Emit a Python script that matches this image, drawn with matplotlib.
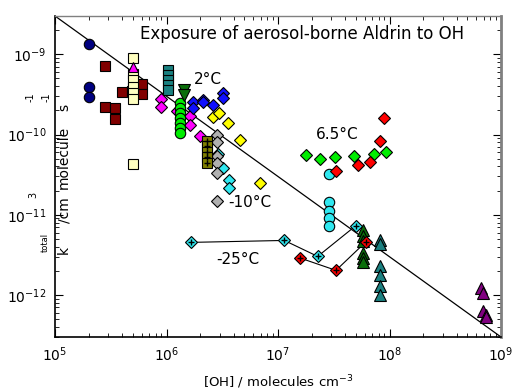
import matplotlib
matplotlib.use("Agg")
import matplotlib.pyplot as plt
from matplotlib.ticker import LogLocator, NullFormatter

# ---------------- data ----------------
ref_x = [1e5, 1e9]
ref_y = [3e-9, 3e-13]

navy_x = [2.0e5, 2.0e5, 2.0e5]
navy_y = [1.36e-9, 3.9e-10, 2.92e-10]

maroon_x = [2.8e5, 2.8e5, 3.45e5, 3.45e5, 4.0e5, 4.9e5, 5.7e5, 6.0e5, 6.0e5]
maroon_y = [7.1e-10, 2.2e-10, 2.17e-10, 1.57e-10, 3.38e-10, 3.5e-10, 3.47e-10, 4.24e-10, 3.16e-10]

cream_x = [5.0e5, 5.0e5, 5.0e5, 5.0e5, 5.0e5, 5.0e5, 5.0e5]
cream_y = [9.0e-10, 5.7e-10, 4.75e-10, 3.9e-10, 3.28e-10, 2.76e-10, 4.27e-11]

magtri_x = [5.0e5]
magtri_y = [6.9e-10]

tealsq_x = [1.04e6, 1.04e6, 1.04e6, 1.04e6, 1.04e6]
tealsq_y = [6.3e-10, 5.5e-10, 4.75e-10, 4.1e-10, 3.57e-10]

dgdown_x = [1.45e6, 1.45e6]
dgdown_y = [3.57e-10, 3.1e-10]

gcirc_x = [1.33e6, 1.33e6, 1.33e6, 1.33e6, 1.33e6, 1.33e6, 1.33e6]
gcirc_y = [2.44e-10, 2.13e-10, 1.85e-10, 1.6e-10, 1.39e-10, 1.2e-10, 1.04e-10]

magd_x = [8.97e5, 8.97e5, 1.23e6, 1.63e6, 1.63e6, 1.98e6]
magd_y = [2.77e-10, 2.21e-10, 1.98e-10, 1.72e-10, 1.31e-10, 9.6e-11]

blue_x = [1.74e6, 1.74e6, 2.14e6, 2.14e6, 2.61e6, 3.24e6, 3.24e6]
blue_y = [2.55e-10, 2.15e-10, 2.73e-10, 2.51e-10, 2.32e-10, 3.34e-10, 2.82e-10]

yel_x = [2.63e6, 2.96e6, 3.58e6, 4.56e6, 6.9e6]
yel_y = [1.66e-10, 1.87e-10, 1.38e-10, 8.5e-11, 2.5e-11]

olive_x = [2.33e6, 2.33e6, 2.33e6, 2.33e6, 2.33e6]
olive_y = [8.3e-11, 7.1e-11, 6.07e-11, 5.18e-11, 4.43e-11]

cyand_x = [2.91e6, 3.24e6, 3.66e6, 3.66e6]
cyand_y = [5.8e-11, 3.8e-11, 2.72e-11, 2.15e-11]

gray_x = [2.82e6, 2.82e6, 2.82e6, 2.82e6, 2.82e6, 2.82e6]
gray_y = [9.87e-11, 8.15e-11, 5.36e-11, 4.39e-11, 3.32e-11, 1.49e-11]

cyanc_x = [2.86e7, 2.86e7, 2.86e7, 2.86e7, 2.86e7]
cyanc_y = [3.2e-11, 1.43e-11, 1.12e-11, 9.1e-12, 7.3e-12]

lime_x = [1.78e7, 2.38e7, 3.27e7, 4.81e7, 7.31e7, 9.25e7]
lime_y = [5.56e-11, 4.92e-11, 5.3e-11, 5.45e-11, 5.68e-11, 6.07e-11]

red_x = [3.31e7, 5.21e7, 6.68e7, 8.17e7, 8.98e7]
red_y = [3.52e-11, 4.14e-11, 4.49e-11, 8.24e-11, 1.62e-10]

m25c_x = [1.65e6, 1.14e7, 2.27e7, 4.98e7]
m25c_y = [4.53e-12, 4.79e-12, 3.03e-12, 7.3e-12]

m25r_x = [1.57e7, 3.31e7, 6.12e7]
m25r_y = [2.9e-12, 2.03e-12, 4.58e-12]

dgup_x = [5.73e7, 5.73e7, 5.73e7, 5.73e7, 5.73e7, 5.73e7]
dgup_y = [6.5e-12, 5.38e-12, 4.67e-12, 3.34e-12, 2.9e-12, 2.55e-12]

tealtri_x = [8.17e7, 8.17e7, 8.17e7, 8.17e7, 8.17e7, 8.17e7]
tealtri_y = [4.89e-12, 4.37e-12, 2.32e-12, 1.77e-12, 1.31e-12, 1.01e-12]

purp_x = [6.55e8, 6.93e8, 6.93e8, 7.29e8, 7.29e8]
purp_y = [1.24e-12, 1.06e-12, 6.4e-13, 5.72e-13, 5.33e-13]

x_ticks = [1e5, 1e6, 1e7, 1e8, 1e9]
y_ticks = [1e-12, 1e-11, 1e-10, 1e-9]

# ---------------- figure ----------------
W, H = 514, 391
fig = plt.figure(figsize=(W / 100, H / 100), dpi=100)
ax = fig.add_axes([55 / W, 1 - 337 / H, 446 / W, 321 / H])
ax.set_xscale("log")
ax.set_yscale("log")
ax.set_xlim(1e5, 1e9)
ax.set_ylim(3e-13, 3e-9)

ax.plot(ref_x, ref_y, color="black", lw=0.9, zorder=1)

EW = 0.8
def sc(x, y, m, fc, ms, z=3):
    ax.plot(x, y, linestyle="none", marker=m, ms=ms, mfc=fc, mec="black",
            mew=EW, zorder=z)

sc(navy_x, navy_y, "o", "#000080", 7.5)
sc(maroon_x, maroon_y, "s", "#800000", 7)
sc(cream_x, cream_y, "s", "#ffffc0", 7)
sc(magtri_x, magtri_y, "^", "#ff00ff", 7.5)
sc(tealsq_x, tealsq_y, "s", "#1a8080", 7)
sc(magd_x, magd_y, "D", "#ff00ff", 6.5)
sc(gcirc_x, gcirc_y, "o", "#00ee00", 7.5)
sc(dgdown_x, dgdown_y, "v", "#0a6e0a", 8)
sc(blue_x, blue_y, "D", "#1010ff", 6.5)
sc(yel_x, yel_y, "D", "#ffff00", 6.5)
sc(cyand_x, cyand_y, "D", "#30e8f0", 6.5)
sc(gray_x, gray_y, "D", "#b0b0b0", 6.5)
sc(olive_x, olive_y, "s", "#808000", 7)
ax.plot(olive_x, olive_y, linestyle="none", marker="+", ms=4, mec="black", mew=1.0, zorder=4)
sc(cyanc_x, cyanc_y, "o", "#30e8f0", 7.5)
sc(lime_x, lime_y, "D", "#00ee00", 6.5)
sc(red_x, red_y, "D", "#ff0000", 6.5)

ax.plot(m25c_x, m25c_y, color="black", lw=0.8, zorder=2)
ax.plot(m25r_x, m25r_y, color="black", lw=0.8, zorder=2)
sc(dgup_x, dgup_y, "^", "#0a6e0a", 8)
sc(tealtri_x, tealtri_y, "^", "#1a8080", 8)
sc(m25c_x, m25c_y, "D", "#30e8f0", 6.5, z=5)
ax.plot(m25c_x, m25c_y, linestyle="none", marker="+", ms=4, mec="black", mew=1.0, zorder=6)
sc(m25r_x, m25r_y, "D", "#ff0000", 6.5, z=5)
ax.plot(m25r_x, m25r_y, linestyle="none", marker="+", ms=4, mec="black", mew=1.0, zorder=6)
sc(purp_x, purp_y, "^", "#800080", 8)

# annotations
ax.text(2.37e6, 4.9e-10, "2°C", fontsize=11, ha="center", va="center")
ax.text(3.4e7, 9.9e-11, "6.5°C", fontsize=11, ha="center", va="center")
ax.text(5.6e6, 1.42e-11, "-10°C", fontsize=11, ha="center", va="center")
ax.text(4.4e6, 2.76e-12, "-25°C", fontsize=11, ha="center", va="center")
ax.text(0.555, 0.945, "Exposure of aerosol-borne Aldrin to OH", transform=ax.transAxes,
        fontsize=12, ha="center", va="center")

# ticks / spines
ax.set_xticks(x_ticks)
ax.set_yticks(y_ticks)
ax.xaxis.set_minor_locator(LogLocator(base=10, subs=range(2, 10), numticks=20))
ax.yaxis.set_minor_locator(LogLocator(base=10, subs=range(2, 10), numticks=20))
ax.xaxis.set_minor_formatter(NullFormatter())
ax.yaxis.set_minor_formatter(NullFormatter())
ax.tick_params(which="both", direction="in", top=True, right=True, labelsize=10)
ax.tick_params(which="major", length=6, width=0.8)
ax.tick_params(which="minor", length=3, width=0.6)
ax.tick_params(axis="x", which="major", pad=6)
ax.tick_params(axis="y", which="major", pad=6)
for s in ("left", "bottom"):
    ax.spines[s].set_linewidth(1.2)
    ax.spines[s].set_color("black")
ax.spines["right"].set_color("#808080")
ax.spines["right"].set_linewidth(2.0)
ax.spines["top"].set_color("#808080")
ax.spines["top"].set_linewidth(1.0)

ax.set_xlabel("[OH] / molecules cm$^{-3}$", fontsize=9.5, labelpad=7)

# y-label pieces (reproduce the reference's split layout)
def ftxt(px, py, s, fs):
    fig.text(px / W, 1 - py / H, s, fontsize=fs, rotation=90, ha="center", va="center")

ftxt(64, 250, "k", 10)
ftxt(45, 242, "total", 6)
ftxt(64, 210, "/cm", 10)
ftxt(33, 195, "3", 7)
ftxt(64, 157, "molecule", 10)
ftxt(64, 107, "s", 10)
ftxt(31, 97, "-1", 7)
ftxt(47, 97, "-1", 7)

fig.savefig("out.png", dpi=100)
